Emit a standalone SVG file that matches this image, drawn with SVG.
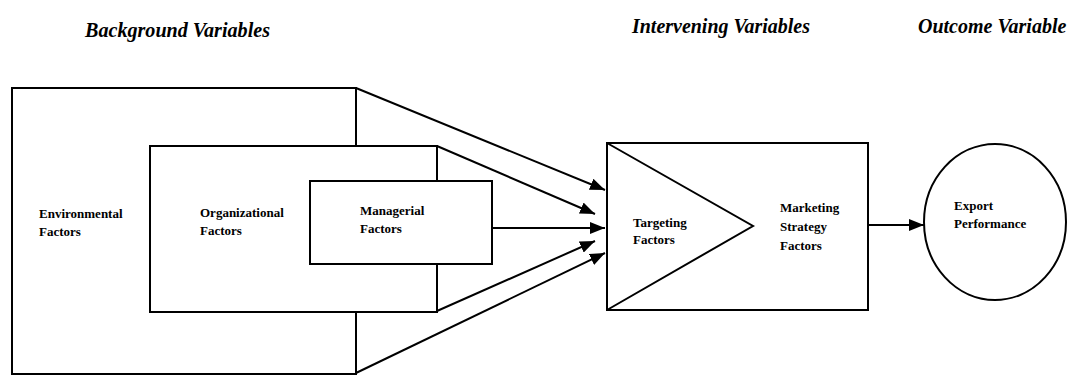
<svg xmlns="http://www.w3.org/2000/svg" width="1067" height="376" viewBox="0 0 1067 376">
  <style>
    .box { fill: #ffffff; stroke: #000000; stroke-width: 2; }
    .edge { fill: none; stroke: #000000; stroke-width: 2; }
    .head { font-family: "Liberation Serif", "Times New Roman", serif; font-weight: bold; font-style: italic; font-size: 20px; fill: #000000; }
    .lbl { font-family: "Liberation Serif", "Times New Roman", serif; font-weight: bold; font-size: 13px; fill: #000000; }
  </style>
  <defs>
    <marker id="arrow" markerUnits="userSpaceOnUse" markerWidth="16" markerHeight="12" refX="15" refY="6" orient="auto">
      <path d="M0,0 L15,6 L0,12 Z" fill="#000000"/>
    </marker>
  </defs>
  <rect width="1067" height="376" fill="#ffffff"/>

  <!-- column headings -->
  <g id="headings">
    <text class="head" x="85" y="37" textLength="185" lengthAdjust="spacingAndGlyphs">Background Variables</text>
    <text class="head" x="632" y="33" textLength="178" lengthAdjust="spacingAndGlyphs">Intervening Variables</text>
    <text class="head" x="918" y="33">Outcome Variable</text>
  </g>

  <!-- background variables: nested boxes -->
  <g id="environmental">
    <rect class="box" x="12" y="88" width="344" height="286"/>
    <text class="lbl" x="39" y="218">Environmental</text>
    <text class="lbl" x="39" y="236">Factors</text>
  </g>
  <g id="organizational">
    <rect class="box" x="150" y="146" width="287" height="166"/>
    <text class="lbl" x="200" y="217">Organizational</text>
    <text class="lbl" x="200" y="235">Factors</text>
  </g>
  <g id="managerial">
    <rect class="box" x="310" y="181" width="182" height="83"/>
    <text class="lbl" x="360" y="215">Managerial</text>
    <text class="lbl" x="360" y="233">Factors</text>
  </g>

  <!-- intervening variables -->
  <g id="strategy">
    <rect class="box" x="607" y="143" width="261" height="167"/>
    <text class="lbl" x="780" y="212">Marketing</text>
    <text class="lbl" x="780" y="231">Strategy</text>
    <text class="lbl" x="780" y="250">Factors</text>
  </g>
  <g id="targeting">
    <polyline class="edge" points="607,143 753,226 607,310"/>
    <text class="lbl" x="633" y="227">Targeting</text>
    <text class="lbl" x="633" y="244">Factors</text>
  </g>

  <!-- outcome variable -->
  <g id="performance">
    <ellipse class="box" cx="995" cy="222" rx="71" ry="78"/>
    <text class="lbl" x="954" y="210">Export</text>
    <text class="lbl" x="954" y="228">Performance</text>
  </g>

  <!-- connectors -->
  <g id="connectors">
    <line class="edge" x1="356" y1="88" x2="605" y2="190" marker-end="url(#arrow)"/>
    <line class="edge" x1="437" y1="146" x2="595" y2="214" marker-end="url(#arrow)"/>
    <line class="edge" x1="492" y1="228" x2="605" y2="228" marker-end="url(#arrow)"/>
    <line class="edge" x1="437" y1="311" x2="595" y2="241" marker-end="url(#arrow)"/>
    <line class="edge" x1="356" y1="373" x2="605" y2="253" marker-end="url(#arrow)"/>
    <line class="edge" x1="868" y1="225" x2="924" y2="225" marker-end="url(#arrow)"/>
  </g>
</svg>
